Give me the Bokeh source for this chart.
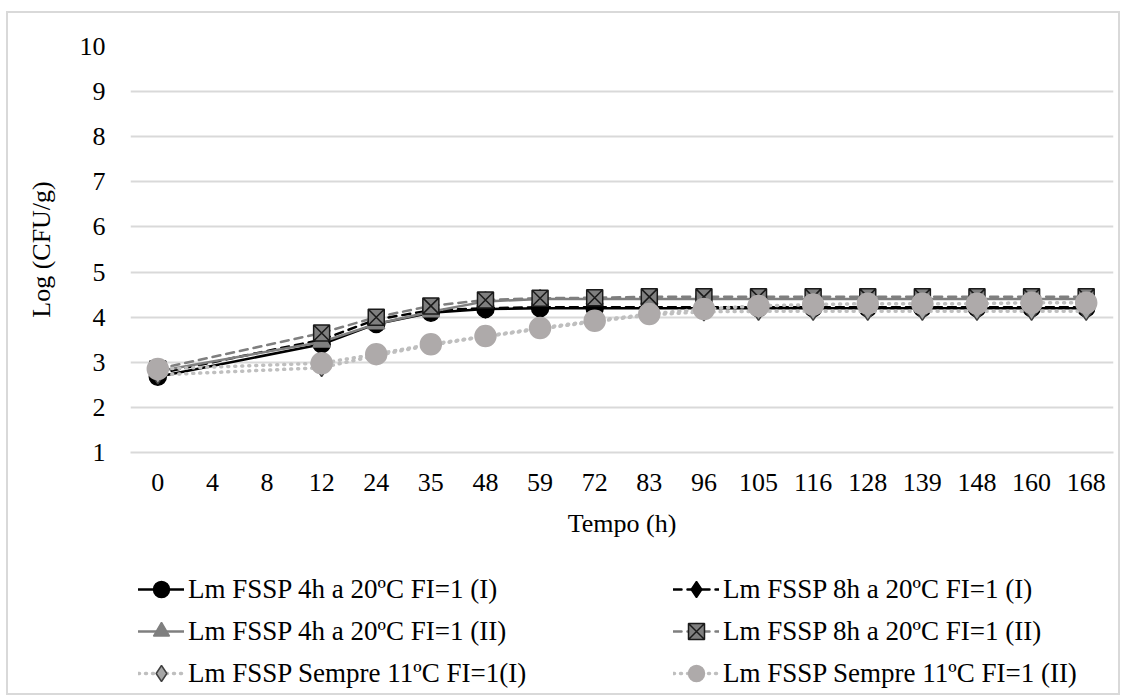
from bokeh.plotting import figure
from bokeh.layouts import column
from bokeh.models import FactorRange, Range1d, Legend, LegendItem, ColumnDataSource, SingleIntervalTicker
from bokeh.embed import file_html
from bokeh.resources import INLINE

times = ["0", "4", "8", "12", "24", "35", "48", "59", "72", "83", "96", "105", "116", "128", "139", "148", "160", "168"]

s_4h_I = [2.68, None, None, 3.40, 3.85, 4.10, 4.18, 4.20, 4.20, 4.20, 4.20, 4.20, 4.20, 4.20, 4.20, 4.20, 4.20, 4.20]
s_8h_I = [2.75, None, None, 3.50, 3.95, 4.15, 4.20, 4.22, 4.22, 4.22, 4.22, 4.22, 4.22, 4.22, 4.22, 4.22, 4.22, 4.22]
s_4h_II = [2.80, None, None, 3.45, 3.85, 4.12, 4.35, 4.40, 4.40, 4.40, 4.40, 4.40, 4.40, 4.40, 4.40, 4.40, 4.40, 4.40]
s_8h_II = [2.85, None, None, 3.65, 4.00, 4.25, 4.38, 4.42, 4.43, 4.45, 4.45, 4.45, 4.45, 4.45, 4.45, 4.45, 4.45, 4.45]
s_11_I = [2.72, None, None, 2.88, 3.15, 3.38, 3.57, 3.74, 3.90, 4.05, 4.12, 4.13, 4.13, 4.13, 4.13, 4.13, 4.13, 4.13]
s_11_II = [2.85, None, None, 2.98, 3.18, 3.40, 3.58, 3.76, 3.92, 4.07, 4.18, 4.25, 4.28, 4.30, 4.30, 4.30, 4.32, 4.32]

labels = [
    "Lm FSSP 4h a 20ºC FI=1 (I)",
    "Lm FSSP 8h a 20ºC FI=1 (I)",
    "Lm FSSP 4h a 20ºC FI=1 (II)",
    "Lm FSSP 8h a 20ºC FI=1 (II)",
    "Lm FSSP Sempre 11ºC FI=1(I)",
    "Lm FSSP Sempre 11ºC FI=1 (II)",
]

FONT = "Liberation Serif"
W = 1110

p = figure(width=W, height=547, x_range=FactorRange(*times), y_range=Range1d(1, 10),
           output_backend="svg", toolbar_location=None,
           min_border_left=122, min_border_top=33, min_border_right=5, min_border_bottom=108)
p.outline_line_color = None
p.background_fill_color = "white"
p.border_fill_color = "white"
p.xgrid.grid_line_color = None
p.ygrid.grid_line_color = "#d9d9d9"
p.ygrid.grid_line_width = 2
p.yaxis.ticker = SingleIntervalTicker(interval=1)

p.xaxis.axis_line_color = "#d9d9d9"
p.xaxis.axis_line_width = 2
p.yaxis.axis_line_color = None
for ax in (p.xaxis, p.yaxis):
    ax.major_tick_line_color = None
    ax.minor_tick_line_color = None
    ax.major_label_text_font = FONT
    ax.major_label_text_font_size = "26px"
    ax.major_label_text_color = "#000000"
    ax.axis_label_text_font = FONT
    ax.axis_label_text_font_size = "26px"
    ax.axis_label_text_font_style = "normal"
    ax.axis_label_text_color = "#000000"
p.xaxis.major_label_orientation = "horizontal"
p.xaxis.major_label_standoff = 15
p.xaxis.axis_label = "Tempo (h)"
p.xaxis.axis_label_standoff = 15
p.yaxis.axis_label = "Log (CFU/g)"
p.yaxis.major_label_standoff = 19
p.yaxis.axis_label_standoff = 21


def src(vals):
    xs = [t for t, v in zip(times, vals) if v is not None]
    ys = [v for v in vals if v is not None]
    return ColumnDataSource(dict(x=xs, y=ys))


specs = [
    (s_4h_I, "#000000", "solid", 2.5, "circle", 17, "#000000", "#000000"),
    (s_8h_I, "#000000", "8 6", 2.5, "diamond", 20, "#000000", "#000000"),
    (s_4h_II, "#7f7f7f", "solid", 2.5, "triangle", 17, "#7f7f7f", "#7f7f7f"),
    (s_8h_II, "#7f7f7f", "8 6", 2.5, "square_x", 16, "#7f7f7f", "#1a1a1a"),
    (s_11_I, "#bfbfbf", "1 6", 3.5, "diamond", 18, "#a6a6a6", "#404040"),
    (s_11_II, "#bfbfbf", "1 6", 3.5, "circle", 21, "#aeaaaa", "#aeaaaa"),
]

# legend panel below the chart: same data, but its y range lies far above the values,
# so only the legend is visible there
pl = figure(width=W, height=133, output_backend="svg", toolbar_location=None,
            min_border=0, x_range=FactorRange(*times), y_range=Range1d(100, 101))
pl.axis.visible = False
pl.grid.visible = False
pl.outline_line_color = None

items = []
for (vals, lc, dash, lw, marker, size, fc, mlc), lab in zip(specs, labels):
    s = src(vals)
    p.line("x", "y", source=s, line_color=lc, line_width=lw, line_dash=dash, line_cap="round")
    p.scatter("x", "y", source=s, marker=marker, size=size, fill_color=fc,
              line_color=mlc, line_width=1.5)
    l_line = pl.line("x", "y", source=s, line_color=lc, line_width=lw, line_dash=dash, line_cap="round")
    l_mark = pl.scatter("x", "y", source=s, marker=marker, size=size, fill_color=fc,
                        line_color=mlc, line_width=1.5)
    items.append(LegendItem(label=lab, renderers=[l_line, l_mark]))

order = [0, 2, 4, 1, 3, 5]
legend = Legend(items=[items[i] for i in order], ncols=2, nrows=3,
                location=(8, 0), orientation="vertical",
                label_text_font=FONT, label_text_font_size="27px", label_text_color="#000000",
                glyph_width=46, glyph_height=40, label_standoff=4, label_width=483,
                spacing=2, padding=0, margin=0, border_line_color=None,
                background_fill_alpha=0)
pl.add_layout(legend, "center")

layout = column(p, pl, spacing=0)
layout.margin = (11, 0, 0, 6)
layout.styles = {"border": "2px solid #d9d9d9"}

open("out.html", "w").write(file_html(layout, INLINE))
